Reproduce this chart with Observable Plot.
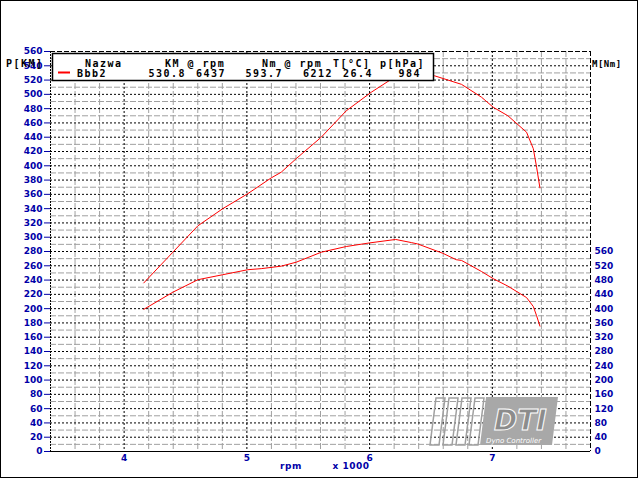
<!DOCTYPE html>
<html><head><meta charset="utf-8">
<script src="https://cdn.jsdelivr.net/npm/d3@7"></script>
<script src="https://cdn.jsdelivr.net/npm/@observablehq/plot@0.6"></script>
<style>body{margin:0;background:#fff}#chart{position:relative;width:640px;height:480px}</style>
</head><body><div id="chart"></div>
<script>
// ---- data ----
const powerRpm = [4160, 4397, 4601, 4804, 5008, 5198, 5280, 5402, 5606, 5810, 6014, 6203, 6300, 6437, 6529, 6749, 6912, 7007, 7127, 7279, 7334, 7361, 7388];
const powerKM  = [236, 279, 316, 340, 361, 383, 391, 410, 440, 477, 503, 524, 530, 530.8, 526, 514, 496, 482, 470, 447, 424, 398, 369];
const torqueRpm = [4160, 4397, 4601, 4804, 5008, 5117, 5280, 5402, 5606, 5810, 5999, 6212, 6340, 6393, 6597, 6706, 6749, 6912, 7007, 7127, 7279, 7334, 7361, 7388];
const torqueNm  = [398, 446, 481, 495, 509, 512, 519, 530, 558, 574, 584, 593.7, 585, 581, 555, 537, 535, 504, 484, 463, 431, 406, 380, 351];
const xTicks = [4000, 5000, 6000, 7000];
const xTickLabels = ["4", "5", "6", "7"];
const leftTicks = [0,20,40,60,80,100,120,140,160,180,200,220,240,260,280,300,320,340,360,380,400,420,440,460,480,500,520,540,560];
const rightTicks = [0,40,80,120,160,200,240,280,320,360,400,440,480,520,560];
const legendHeader = ["Nazwa", "KM @ rpm", "Nm @ rpm", "T[°C]", "p[hPa]"];
const legendName = "Bbb2";
const legendValues = ["530.8", "6437", "593.7", "6212", "26.4", "984"];

const power = powerRpm.map((r, i) => ({rpm: r, v: powerKM[i]}));
// right axis (M[Nm]) is drawn at half the scale of the left axis
const torque = torqueRpm.map((r, i) => ({rpm: r, v: torqueNm[i] / 2}));
const minorX = d3.range(3600, 7800, 200).filter(d => d % 1000 !== 0);
const majorY = d3.range(20, 560, 20);
const minorY = d3.range(10, 560, 20);
const BLUE = "#0000a8";

const chart = Plot.plot({
  width: 640, height: 480,
  marginLeft: 50, marginRight: 50, marginTop: 51, marginBottom: 29,
  x: {domain: [3400, 7800]},
  y: {domain: [0, 560]},
  style: {fontFamily: "DejaVu Sans", fontSize: "9px", fontWeight: "bold", background: "white"},
  marks: [
    Plot.ruleY(minorY, {stroke: "#a0a0a0", strokeDasharray: "6,2"}),
    Plot.ruleX(minorX, {stroke: "#a0a0a0", strokeDasharray: "6,2"}),
    Plot.ruleY(majorY, {stroke: "black", strokeDasharray: "2,2"}),
    Plot.ruleX(xTicks, {stroke: "black", strokeDasharray: "2,2"}),
    Plot.ruleX([3400], {stroke: "black", strokeDasharray: "2,1"}),
    Plot.ruleX([7800], {stroke: "black", strokeDasharray: "5,2"}),
    Plot.ruleY([560], {stroke: "black", strokeDasharray: "5,2"}),
    Plot.ruleY([0], {stroke: "black"}),
    Plot.line(power, {x: "rpm", y: "v", stroke: "red", strokeWidth: 1}),
    Plot.line(torque, {x: "rpm", y: "v", stroke: "red", strokeWidth: 1}),
    Plot.axisX({ticks: xTicks, tickFormat: d => xTickLabels[xTicks.indexOf(d)], tickSize: 0, tickPadding: 3, color: BLUE, label: null}),
    Plot.axisY({ticks: leftTicks, tickSize: 6, tickPadding: 2, color: BLUE, label: null}),
    Plot.axisY({anchor: "right", ticks: rightTicks.map(d => d / 2), tickFormat: d => String(d * 2), tickSize: 0, tickPadding: 4, color: BLUE, label: null})
  ]
});
document.getElementById("chart").appendChild(chart);

const svg = d3.select(chart);
// outer frame
svg.append("rect").attr("x", 0.5).attr("y", 0.5).attr("width", 637).attr("height", 477)
  .attr("fill", "none").attr("stroke", "black");

// x-axis title
svg.append("text").attr("x", 291).attr("y", 469).attr("text-anchor", "middle").attr("letter-spacing", 0.5)
  .attr("fill", BLUE).attr("font-size", 9).attr("font-weight", "bold").attr("font-family", "DejaVu Sans").text("rpm");
svg.append("text").attr("x", 351).attr("y", 469).attr("text-anchor", "middle").attr("letter-spacing", 0.5)
  .attr("fill", BLUE).attr("font-size", 9).attr("font-weight", "bold").attr("font-family", "DejaVu Sans").text("x 1000");

// axis unit labels
const mono = sel => sel.attr("font-family", "DejaVu Sans Mono").attr("font-weight", "bold")
  .attr("font-size", 10).attr("letter-spacing", 1.5).attr("fill", "black").attr("text-anchor", "start");
svg.append("text").attr("x", 6).attr("y", 67).call(mono).text("P[KM]");
svg.append("text").attr("x", 592).attr("y", 67).call(mono).attr("font-size", 9).attr("letter-spacing", 0.5).text("M[Nm]");

// logo watermark
const logo = svg.append("g").attr("fill", "none").attr("stroke", "#a0a0a0").attr("stroke-width", 1.5);
[430, 443, 456, 469].forEach(x0 => {
  logo.append("polygon").attr("points", `${x0},445 ${x0+9},445 ${x0+15},398 ${x0+6},398`);
});
logo.append("polygon").attr("points", "480,445 552,445 558,397 486,397").attr("fill", "#a8a8a8").attr("stroke", "none");
logo.append("text").attr("x", 494).attr("y", 430).attr("text-anchor", "start").attr("font-family", "DejaVu Sans").attr("font-style", "italic")
  .attr("font-weight", "bold").attr("font-size", 28).attr("fill", "#8c8c8c").attr("stroke", "white").attr("stroke-width", 1).text("DTI");
logo.append("text").attr("x", 486).attr("y", 443).attr("text-anchor", "start").attr("font-family", "DejaVu Sans").attr("font-style", "italic")
  .attr("font-size", 7).attr("font-weight", "normal").attr("fill", "white").attr("stroke", "none").text("Dyno Controller");

// legend box
const lg = svg.append("g");
lg.append("rect").attr("x", 52.5).attr("y", 53.5).attr("width", 381).attr("height", 27)
  .attr("fill", "white").attr("stroke", "black").attr("stroke-width", 1.5);
const hx = [85, 165, 262, 333, 380];
legendHeader.forEach((t, i) => lg.append("text").attr("x", hx[i]).attr("y", 67).call(mono).text(t));
lg.append("line").attr("x1", 58).attr("x2", 70).attr("y1", 72.5).attr("y2", 72.5).attr("stroke", "red").attr("stroke-width", 2);
lg.append("text").attr("x", 77).attr("y", 77).call(mono).text(legendName);
const vx = [186, 226, 283, 333, 373, 421];
legendValues.forEach((t, i) => lg.append("text").attr("x", vx[i]).attr("y", 77).call(mono).attr("text-anchor", "end").text(t));
</script></body></html>
